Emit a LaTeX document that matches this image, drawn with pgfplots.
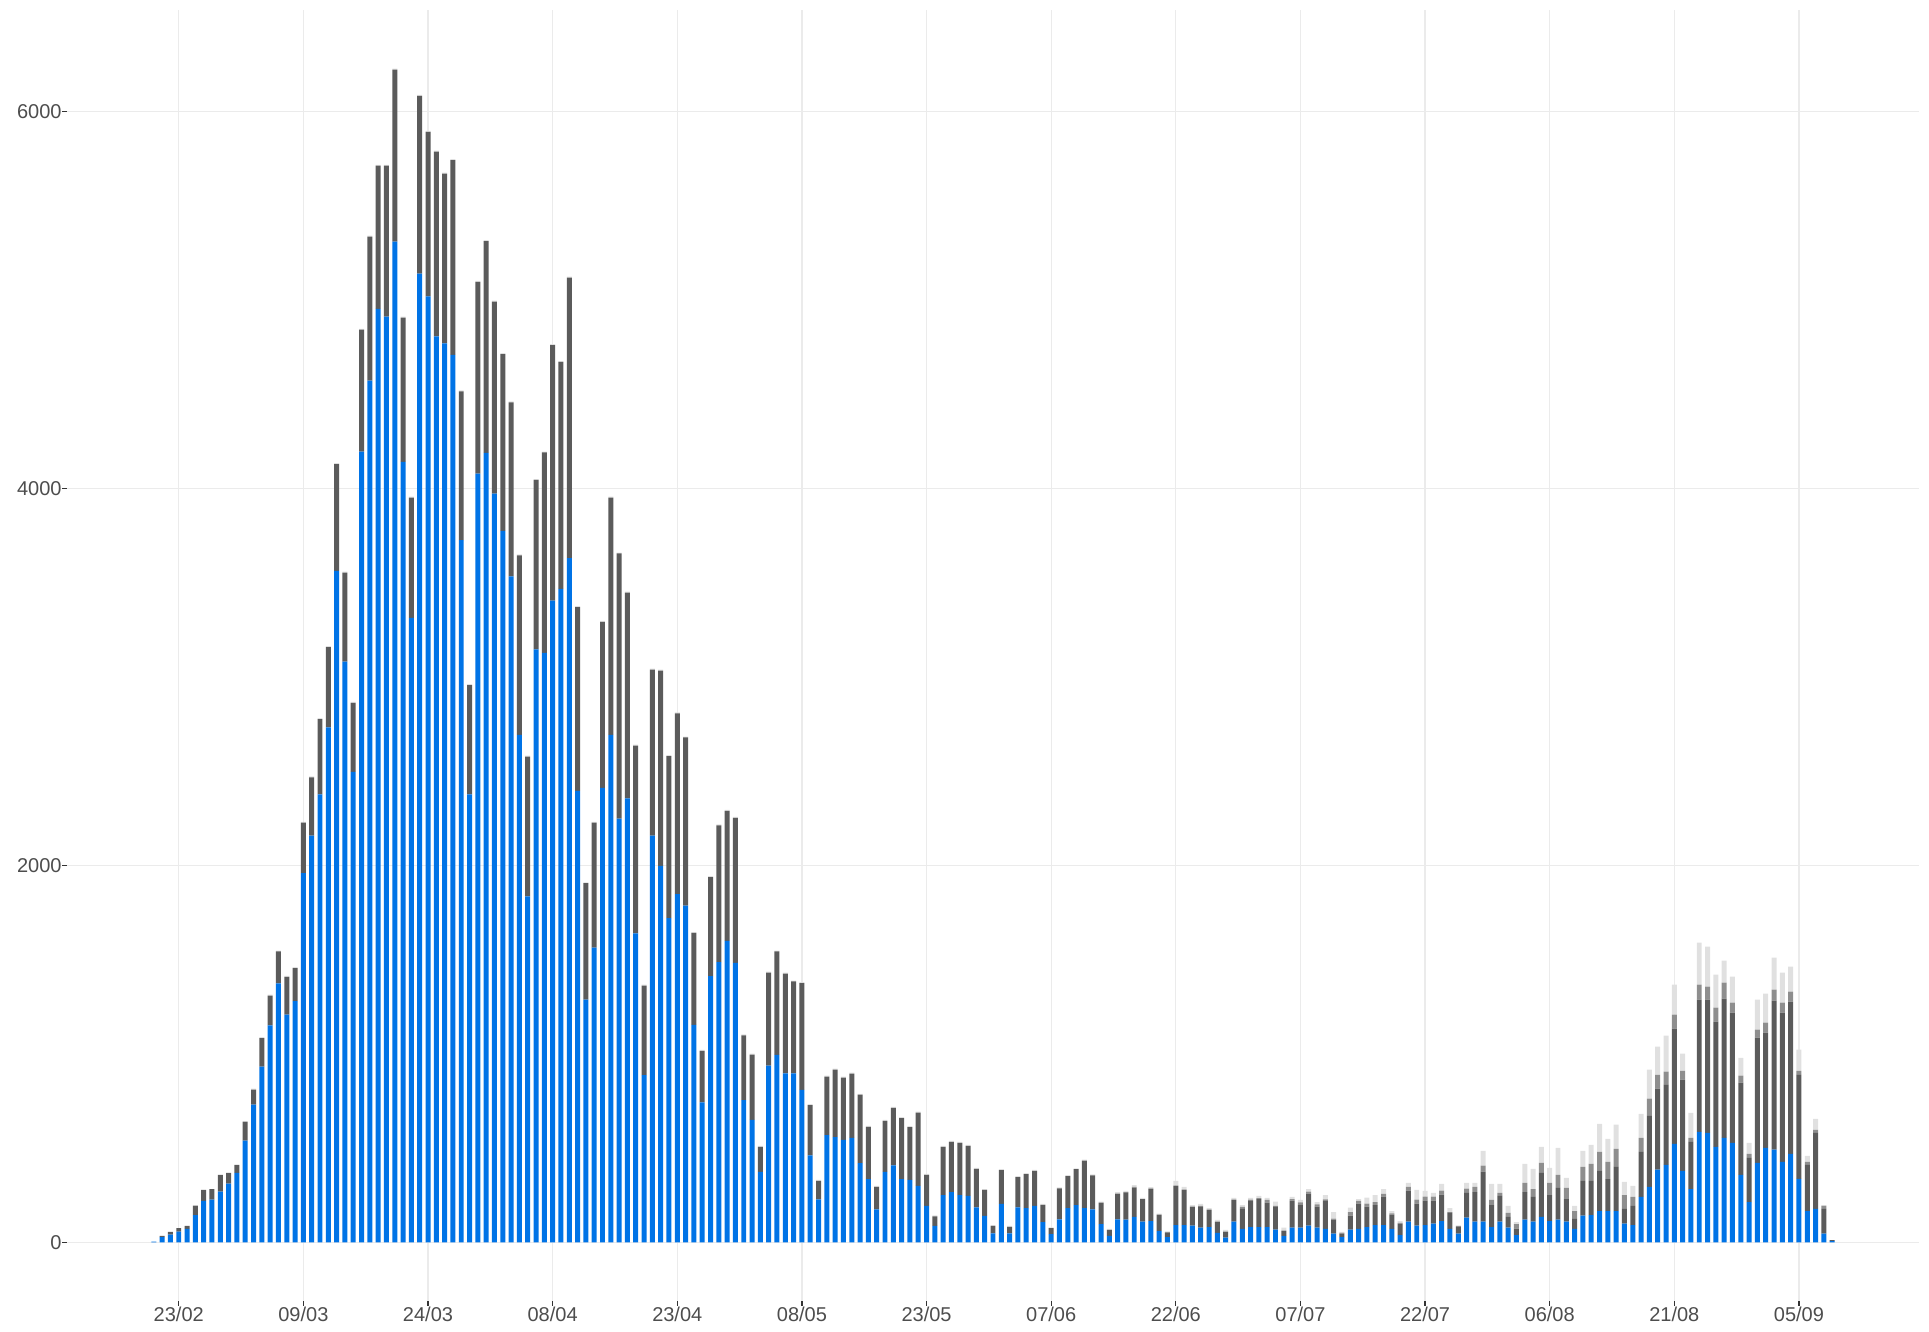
\documentclass[border=0pt]{standalone}
\usepackage{fontspec}
\setmainfont{Liberation Sans}
\usepackage{pgfplots}
\usepackage{pgfplotstable}
\pgfplotsset{compat=1.18}
\definecolor{cblue}{RGB}{0,115,230}
\definecolor{cdark}{RGB}{91,91,91}
\definecolor{cmid}{RGB}{142,142,142}
\definecolor{clight}{RGB}{224,224,224}
\definecolor{gridc}{RGB}{235,235,235}
\definecolor{tickc}{RGB}{51,51,51}
\definecolor{labc}{RGB}{77,77,77}
\pgfplotstableread{
x b d m l
-3 4 0 0 0
-2 28 6 0 0
-1 41 14 0 0
0 57 19 0 0
1 71 16 0 0
2 145 50 0 0
3 220 58 0 0
4 227 56 0 0
5 269 89 0 0
6 312 56 0 0
7 368 43 0 0
8 540 101 0 0
9 730 80 0 5
10 932 152 0 5
11 1151 158 0 5
12 1374 169 0 5
13 1208 200 0 5
14 1280 175 0 5
15 1959 267 0 5
16 2158 309 0 5
17 2376 400 0 5
18 2732 425 0 5
19 3562 566 0 5
20 3080 473 0 5
21 2495 367 0 5
22 4195 646 0 5
23 4571 764 0 5
24 4952 759 0 5
25 4910 801 0 5
26 5308 913 0 5
27 4140 765 0 5
28 3312 638 0 5
29 5139 943 0 5
30 5018 873 0 5
31 4806 980 0 5
32 4768 901 0 5
33 4707 1034 0 5
34 3725 789 0 5
35 2376 580 0 5
36 4078 1017 0 5
37 4188 1123 0 5
38 3972 1018 0 5
39 3774 938 0 5
40 3532 924 0 5
41 2692 952 0 5
42 1835 742 0 5
43 3146 898 0 5
44 3127 1063 0 5
45 3404 1355 0 5
46 3466 1204 0 5
47 3630 1487 0 5
48 2395 975 0 5
49 1287 618 0 5
50 1564 662 0 5
51 2411 880 0 5
52 2692 1258 0 5
53 2247 1407 0 5
54 2355 1092 0 5
55 1639 996 0 5
56 887 475 0 5
57 2158 880 0 5
58 1997 1036 0 5
59 1720 859 0 5
60 1847 959 0 5
61 1786 892 0 5
62 1154 487 0 5
63 742 274 0 5
64 1412 526 0 5
65 1486 726 0 5
66 1599 690 0 5
67 1482 770 0 5
68 755 343 0 5
69 650 346 0 5
70 374 133 0 5
71 937 494 0 5
72 994 549 0 5
73 896 530 0 5
74 896 488 0 5
75 809 566 0 5
76 462 266 0 5
77 228 98 0 5
78 569 310 0 5
79 558 358 0 5
80 544 330 0 5
81 554 341 0 5
82 420 363 0 5
83 335 278 0 5
84 175 119 0 5
85 374 271 0 5
86 409 305 0 5
87 335 324 0 5
88 331 280 0 5
89 299 389 0 5
90 193 165 0 5
91 87 51 0 5
92 250 257 0 5
93 267 266 0 5
94 250 278 0 5
95 246 266 0 5
96 186 204 0 5
97 140 138 0 5
98 48 39 0 5
99 204 179 0 5
100 48 34 0 5
101 186 160 0 5
102 182 180 0 5
103 193 186 0 5
104 108 91 0 5
105 44 31 0 5
106 122 165 0 5
107 182 169 0 5
108 197 191 0 5
109 182 252 0 5
110 175 180 0 5
111 97 114 0 5
112 34 32 0 5
113 122 137 0 8
114 120 143 4 6
115 135 155 4 9
116 110 120 0 6
117 113 170 4 6
118 60 87 0 6
119 28 25 0 5
120 92 209 0 25
121 92 188 0 14
122 89 101 0 7
123 78 110 5 11
124 81 93 0 7
125 50 60 0 9
126 25 32 0 9
127 110 117 0 9
128 71 106 11 10
129 81 139 7 9
130 81 149 5 11
131 81 130 14 11
132 67 121 5 23
133 35 27 0 16
134 78 143 9 11
135 78 120 14 13
136 89 170 10 14
137 78 112 12 12
138 71 149 8 23
139 46 74 6 35
140 28 18 4 5
141 67 75 19 23
142 71 134 15 10
143 81 109 15 32
144 92 106 16 37
145 92 151 14 26
146 71 76 7 12
147 39 60 5 9
148 110 165 19 21
149 89 116 22 51
150 92 129 22 30
151 99 122 22 19
152 113 140 22 35
153 71 85 5 21
154 46 35 5 4
155 131 131 23 30
156 110 157 27 21
157 110 265 32 78
158 81 117 27 85
159 110 136 16 48
160 78 57 21 37
161 39 34 24 11
162 120 147 48 101
163 110 131 42 107
164 135 233 54 85
165 113 138 64 80
166 120 169 69 143
167 110 120 59 53
168 71 53 42 27
169 142 184 74 85
170 145 181 90 101
171 166 213 101 149
172 166 170 91 122
173 166 234 96 128
174 99 78 74 70
175 92 101 48 58
176 241 239 74 128
177 294 377 91 154
178 386 429 74 149
179 411 425 69 191
180 522 612 74 159
181 379 484 47 91
182 283 250 21 133
183 586 702 79 223
184 581 707 69 212
185 507 664 74 175
186 554 739 85 117
187 528 691 53 138
188 358 489 37 95
189 214 234 21 59
190 422 664 42 160
191 501 611 53 155
192 492 790 59 170
193 427 792 53 159
194 469 808 53 133
195 337 552 21 112
196 166 245 16 32
197 177 404 16 58
198 46 131 16 5
199 7 5 0 0
}\datatable
\begin{document}
\begin{tikzpicture}
\path[use as bounding box] (-33.5pt,-15.5pt) rectangle (931pt,650.5pt);
\begin{axis}[
  at={(0,0)}, anchor=south west,
  scale only axis, width=926pt, height=645.5pt,
  xmin=-13.45, xmax=209.45, ymin=-311, ymax=6537,
  ybar stacked, bar width=0.6,
  axis line style={draw=none},
  xtick={0,15,...,195},
  xticklabels={23/02,09/03,24/03,08/04,23/04,08/05,23/05,07/06,22/06,07/07,22/07,06/08,21/08,05/09},
  ytick={0,2000,4000,6000},
  yticklabels={0,2000,4000,6000},
  xtick pos=lower, ytick pos=left,
  xmajorgrids, ymajorgrids,
  grid style={color=gridc, line width=0.6pt},
  tick align=outside, major tick length=2.5pt,
  tick style={color=tickc, line width=0.6pt},
  tick label style={font=\fontsize{10}{12}\selectfont, text=labc},
  xticklabel style={inner sep=0pt, yshift=-0.3pt, anchor=north},
  yticklabel style={inner sep=0pt, anchor=east},
  clip=false,
]
\addplot[fill=cblue, draw=none] table[x=x, y=b] {\datatable};
\addplot[fill=cdark, draw=none] table[x=x, y=d] {\datatable};
\addplot[fill=cmid, draw=none] table[x=x, y=m] {\datatable};
\addplot[fill=clight, draw=none] table[x=x, y=l] {\datatable};
\end{axis}
\end{tikzpicture}
\end{document}
